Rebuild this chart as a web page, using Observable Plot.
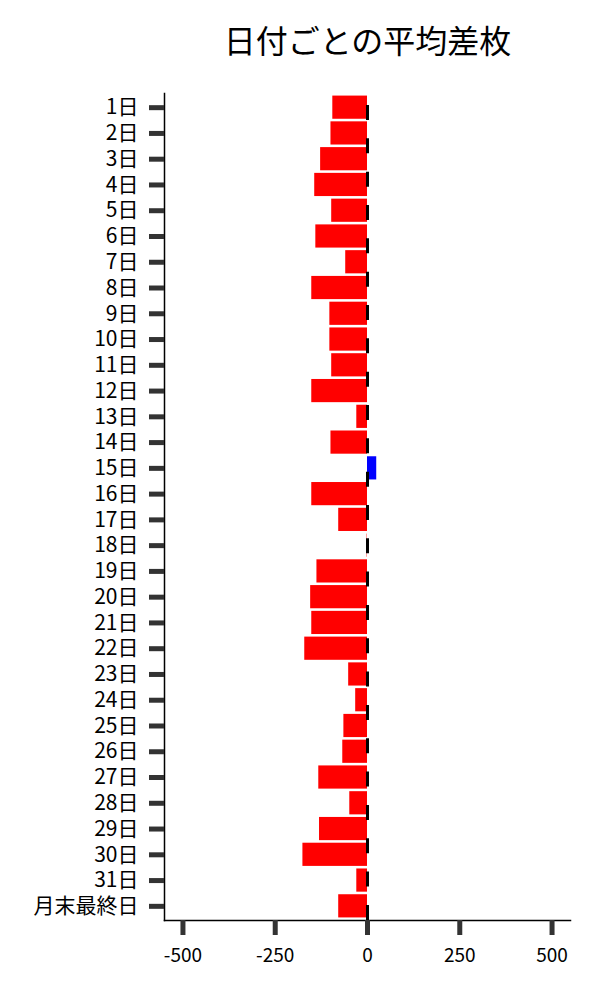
<!DOCTYPE html>
<html>
<head>
<meta charset="utf-8">
<script src="https://cdn.jsdelivr.net/npm/d3@7"></script>
<script src="https://cdn.jsdelivr.net/npm/@observablehq/plot@0.6"></script>
<style>
  html, body { margin: 0; padding: 0; background: #fff; }
  #chart svg { display: block; font-family: "Noto Sans CJK JP", "Noto Sans", sans-serif; }
</style>
</head>
<body>
<div id="chart"></div>
<script>
const title = "日付ごとの平均差枚";
const days = ["1日","2日","3日","4日","5日","6日","7日","8日","9日","10日",
  "11日","12日","13日","14日","15日","16日","17日","18日","19日","20日",
  "21日","22日","23日","24日","25日","26日","27日","28日","29日","30日",
  "31日","月末最終日"];
const avgDiff = [-94, -99, -127, -143, -97, -140, -59, -151, -102, -102,
  -97, -151, -29, -99, 25, -151, -78, -1, -137, -154,
  -151, -170, -51, -32, -64, -67, -132, -48, -130, -175,
  -29, -78];
const xTicks = [-500, -250, 0, 250, 500];
const xDomain = [-550, 550];

const rows = days.map((d, i) => ({day: d, value: avgDiff[i]}));

const chart = Plot.plot({
  width: 600,
  height: 1000,
  marginLeft: 164,
  marginRight: 30,
  marginTop: 93,
  marginBottom: 80,
  style: {fontFamily: '"Noto Sans CJK JP", "Noto Sans", sans-serif', background: "#fff"},
  x: {domain: xDomain, label: null},
  y: {domain: days, label: null, padding: 0.1, round: false},
  marks: [
    Plot.barX(rows, {
      y: "day",
      x: "value",
      fill: d => d.value >= 0 ? "#0000ff" : "#ff0000"
    }),
    Plot.ruleX([0], {
      stroke: "black",
      strokeWidth: 3,
      strokeDasharray: "15,18.33",
      strokeDashoffset: 21.33
    }),
    Plot.frame({anchor: "left", stroke: "black", strokeWidth: 1.5}),
    Plot.frame({anchor: "bottom", stroke: "black", strokeWidth: 1.5}),
    Plot.axisY({
      tickSize: 15,
      tickPadding: 11,
      fontSize: 21,
      stroke: "#333",
      strokeWidth: 5,
      fill: "black",
      label: null
    }),
    Plot.axisX({
      ticks: xTicks,
      tickFormat: d => String(d),
      tickSize: 15,
      tickPadding: 13,
      fontSize: 19,
      stroke: "#333",
      strokeWidth: 5,
      fill: "black",
      label: null
    }),
    Plot.text([title], {
      frameAnchor: "top",
      lineAnchor: "middle",
      dy: -51,
      fontSize: 32,
      fill: "black"
    })
  ]
});
document.getElementById("chart").append(chart);
</script>
</body>
</html>
